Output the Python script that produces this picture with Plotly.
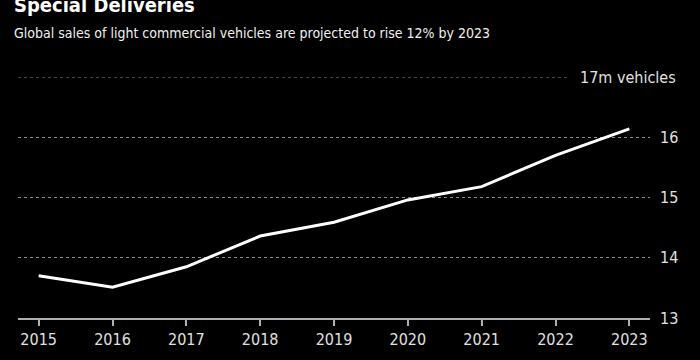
import plotly.graph_objects as go

years = [2015, 2016, 2017, 2018, 2019, 2020, 2021, 2022, 2023]
sales_m = [13.70, 13.51, 13.85, 14.36, 14.59, 14.96, 15.18, 15.70, 16.14]
y_ticks = [13, 14, 15, 16]
top_label = "17m vehicles"
top_value = 17
title = "Special Deliveries"
subtitle = "Global sales of light commercial vehicles are projected to rise 12% by 2023"

FONT = "DejaVu Sans Condensed"

# plot area in pixels
L, R, T, B = 18, 650, 77, 318
W, H = 700, 360


def px_x(px):
    return (px - L) / (R - L)


def px_y(py):
    return (B - py) / (B - T)


fig = go.Figure()
fig.add_trace(go.Scatter(x=years, y=sales_m, mode="lines",
                         line=dict(color="white", width=3), hoverinfo="skip"))

fig.update_layout(
    width=W, height=H,
    paper_bgcolor="black", plot_bgcolor="black",
    margin=dict(l=L, r=W - R, t=T, b=H - B, autoexpand=False),
    showlegend=False,
    font=dict(family=FONT, color="#e0e0e0", size=16),
    xaxis=dict(range=[2014.72, 2023.28], tickvals=years, ticktext=[str(y) for y in years],
               showgrid=False, zeroline=False, showline=True, linecolor="#b0b0b0", linewidth=1.5,
               ticks="outside", ticklen=6, tickcolor="#b0b0b0", tickwidth=1.5,
               tickfont=dict(size=16, color="#e0e0e0"), automargin=False),
    yaxis=dict(range=[13, 17], side="right", tickvals=y_ticks, ticktext=[str(v) for v in y_ticks],
               showgrid=True, gridcolor="#8a8a8a", griddash="dot", gridwidth=1,
               zeroline=False, showline=False, ticks="", ticklabelstandoff=9,
               tickfont=dict(size=16, color="#e0e0e0"), automargin=False),
)
# top gridline (shorter, stops before label)
fig.add_shape(type="line", xref="paper", yref="y", x0=0, x1=px_x(569), y0=top_value, y1=top_value,
              line=dict(color="#8a8a8a", width=1, dash="dot"))
fig.add_annotation(x=px_x(678), xref="paper", y=top_value, yref="y", text=top_label, showarrow=False,
                   xanchor="right", yanchor="middle", font=dict(size=16, color="#e0e0e0", family=FONT))

fig.add_annotation(x=px_x(12), y=px_y(5), xref="paper", yref="paper", text="<b>" + title + "</b>",
                   showarrow=False, xanchor="left", yanchor="middle",
                   font=dict(size=20, color="white", family=FONT))
fig.add_annotation(x=px_x(12), y=px_y(32.5), xref="paper", yref="paper", text=subtitle,
                   showarrow=False, xanchor="left", yanchor="middle",
                   font=dict(size=14, color="#f0f0f0", family=FONT))

fig.write_html("out.html", config={"displayModeBar": False},
               post_script="document.body.style.margin='0';document.body.style.background='black';")
